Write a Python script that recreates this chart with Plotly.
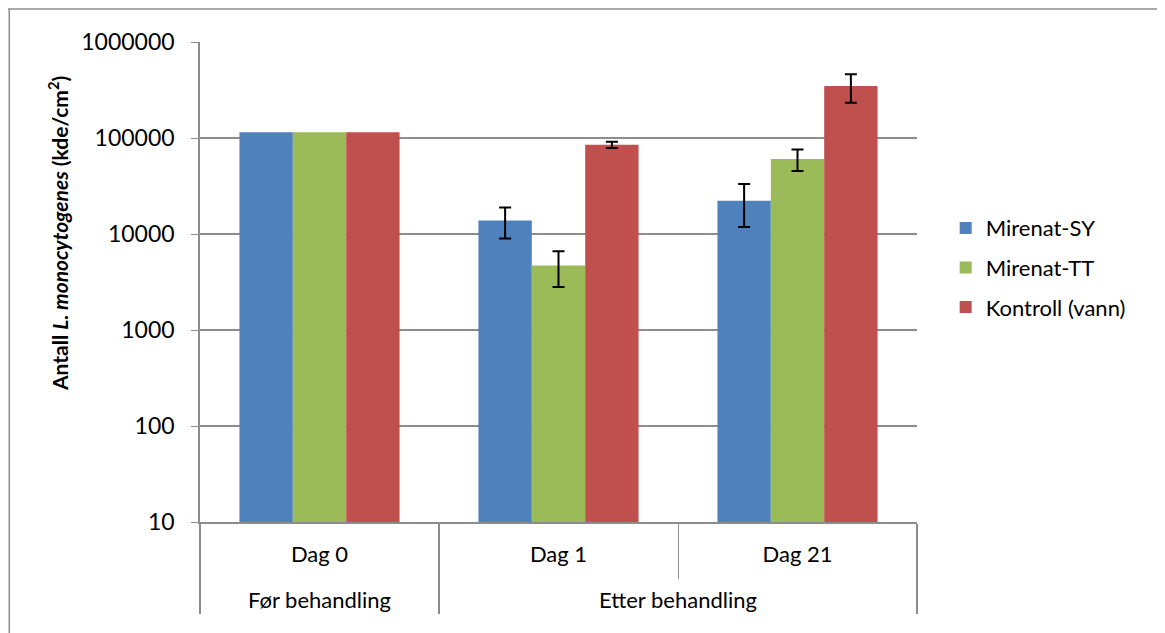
import plotly.graph_objects as go

outer = ["Før behandling", "Etter behandling", "Etter behandling"]
inner = ["Dag 0", "Dag 1", "Dag 21"]
series = ["Mirenat-SY", "Mirenat-TT", "Kontroll (vann)"]
colors = ["#4f81bd", "#9bbb59", "#c0504d"]
values = [
    [115000, 13800, 22200],
    [115000, 4700, 60300],
    [115000, 85100, 348000],
]
# "NaN" = no error bar for Dag 0
err_plus = [
    ["NaN", 5100, 11000],
    ["NaN", 1900, 15700],
    ["NaN", 6500, 113000],
]
err_minus = [
    ["NaN", 4800, 10400],
    ["NaN", 1900, 15000],
    ["NaN", 6400, 115000],
]
y_title = "<b>Antall <i>L. monocytogenes</i> (kde/cm<sup>2</sup>)</b>"

FONT = "Lato"
FS = 23
fig = go.Figure()
outer_lbl = ["<br>" + o for o in outer]
for i, (name, col, v, ep, em) in enumerate(zip(series, colors, values, err_plus, err_minus)):
    fig.add_trace(go.Bar(
        x=[outer_lbl, inner], y=v, name=name,
        legendgroup=f"g{i}",
        marker=dict(color=col, line=dict(width=0)),
        error_y=dict(type="data", symmetric=False,
                     array=ep, arrayminus=em,
                     color="black", thickness=2, width=6,
                     visible=True),
    ))

fig.update_layout(
    width=1157, height=625,
    paper_bgcolor="white", plot_bgcolor="white",
    margin=dict(l=192, r=248, t=34, b=111),
    barmode="group", bargap=0.33, bargroupgap=0,
    font=dict(family=FONT, size=FS, color="black"),
    legend=dict(x=1.04, y=0.53, xanchor="left", yanchor="middle",
                font=dict(size=FS - 1), tracegroupgap=8,
                bgcolor="rgba(0,0,0,0)"),
    showlegend=True,
    shapes=[
        dict(type="line", xref="paper", yref="paper",
             x0=-0.27, x1=1.4, y0=1.069, y1=1.069,
             line=dict(color="#8c8c8c", width=1.5)),
        dict(type="line", xref="paper", yref="paper",
             x0=-0.266, x1=-0.266, y0=1.069, y1=-0.3,
             line=dict(color="#8c8c8c", width=1.5)),
    ],
    annotations=[
        dict(text=y_title, xref="paper", yref="paper", x=-0.198, y=0.60,
             xanchor="center", yanchor="middle", textangle=-90,
             showarrow=False, font=dict(size=FS - 2)),
    ],
)
fig.update_yaxes(
    type="log", range=[1, 6],
    tickvals=[10, 100, 1000, 10000, 100000, 1000000],
    ticktext=["10", "100", "1000", "10000", "100000", "1000000"],
    showgrid=True, gridcolor="#8c8c8c", gridwidth=1.5,
    showline=True, linecolor="#8c8c8c", linewidth=1.5,
    ticks="outside", ticklen=7, tickcolor="#8c8c8c",
    tickfont=dict(size=FS), ticklabelstandoff=12,
    zeroline=False,
)
fig.update_xaxes(
    type="multicategory",
    showline=True, linecolor="#8c8c8c", linewidth=1.5,
    ticks="outside", tickson="boundaries", ticklen=55, tickcolor="#8c8c8c",
    showdividers=True, dividercolor="#8c8c8c", dividerwidth=1.5,
    tickfont=dict(size=FS - 1), ticklabelstandoff=12,
    showgrid=False,
)

fig.write_html("out.html")
